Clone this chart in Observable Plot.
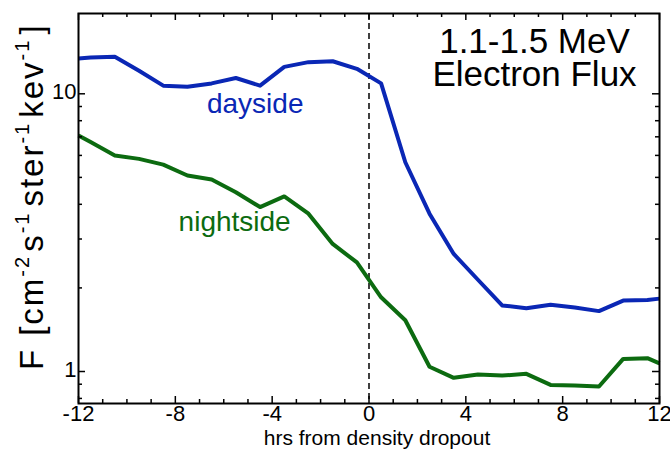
<!DOCTYPE html>
<html><head><meta charset="utf-8">
<script src="https://cdn.jsdelivr.net/npm/d3@7"></script>
<script src="https://cdn.jsdelivr.net/npm/@observablehq/plot@0.6"></script>
<style>body{margin:0;background:#fff;} #chart svg{overflow:visible;}</style>
</head><body><div id="chart"></div>
<script>
const hours = [-12, -11.5, -10.5, -9.5, -8.5, -7.5, -6.5, -5.5, -4.5, -3.5, -2.5, -1.5, -0.5, 0.5, 1.5, 2.5, 3.5, 4.5, 5.5, 6.5, 7.5, 8.5, 9.5, 10.5, 11.5, 12];
const dayside = [13.4, 13.5, 13.6, 12.1, 10.7, 10.6, 10.9, 11.4, 10.7, 12.5, 13.0, 13.1, 12.3, 10.9, 5.67, 3.70, 2.65, 2.14, 1.73, 1.69, 1.74, 1.70, 1.65, 1.80, 1.81, 1.83];
const nightside = [7.08, 6.70, 6.0, 5.83, 5.56, 5.08, 4.91, 4.42, 3.91, 4.27, 3.70, 2.88, 2.47, 1.85, 1.53, 1.04, 0.949, 0.975, 0.967, 0.981, 0.895, 0.89, 0.883, 1.11, 1.117, 1.07];
const seriesNames = ["dayside", "nightside"];
const seriesColors = ["#0a27b5", "#0c6b10"];
const labelHours = [-4.7, -5.55];
const labelFlux = [9.2, 3.46];
const xTickHours = [-12,-11,-10,-9,-8,-7,-6,-5,-4,-3,-2,-1,0,1,2,3,4,5,6,7,8,9,10,11,12];
const xMajorHours = [-12,-8,-4,0,4,8,12];
const yMinorTicks = [0.8,0.9,2,3,4,5,6,7,8,9];
const yMajorTicks = [1,10];
const titleLines = ["1.1-1.5 MeV", "Electron Flux"];
const xTitle = "hrs from density dropout";

const rows = [];
hours.forEach((h, i) => {
  rows.push({h, f: dayside[i], s: seriesNames[0]});
  rows.push({h, f: nightside[i], s: seriesNames[1]});
});
const labels = seriesNames.map((s, i) => ({s, h: labelHours[i], f: labelFlux[i]}));

const W = 670, H = 453, mL = 78, mR = 11, mT = 13, mB = 50;
const fw = W - mL - mR, fh = H - mT - mB;
const font = "'Liberation Sans', Arial, Helvetica, sans-serif";

const chart = Plot.plot({
  width: W, height: H,
  marginLeft: mL, marginRight: mR, marginTop: mT, marginBottom: mB,
  style: {fontFamily: font, background: "#fff", color: "#000", overflow: "visible"},
  x: {domain: [-12, 12]},
  y: {type: "log", domain: [0.767, 19.46]},
  color: {domain: seriesNames, range: seriesColors},
  marks: [
    Plot.ruleX([0], {stroke: "#000", strokeWidth: 1.5, strokeDasharray: "6,4"}),
    Plot.line(rows, {x: "h", y: "f", z: "s", stroke: "s", strokeWidth: 4, strokeLinejoin: "round", strokeLinecap: "butt"}),
    Plot.text(labels, {x: "h", y: "f", text: "s", fill: "s", fontSize: 28}),
    Plot.text([titleLines.join("\n")], {frameAnchor: "top-right", dx: -125, dy: 17, textAnchor: "middle", lineAnchor: "top", lineHeight: 0.92, fontSize: 35, fill: "#000"}),
    Plot.tickX(xTickHours.filter(d => !xMajorHours.includes(d)), {x: d => d, insetTop: fh - 4, stroke: "#000", strokeWidth: 1.5}),
    Plot.tickX(xMajorHours, {x: d => d, insetTop: fh - 7, stroke: "#000", strokeWidth: 1.5}),
    Plot.tickX(xTickHours.filter(d => !xMajorHours.includes(d)), {x: d => d, insetBottom: fh - 4, stroke: "#000", strokeWidth: 1.5}),
    Plot.tickX(xMajorHours, {x: d => d, insetBottom: fh - 7, stroke: "#000", strokeWidth: 1.5}),
    Plot.tickY(yMinorTicks, {y: d => d, insetRight: fw - 4, stroke: "#000", strokeWidth: 1.5}),
    Plot.tickY(yMajorTicks, {y: d => d, insetRight: fw - 7, stroke: "#000", strokeWidth: 1.5}),
    Plot.tickY(yMinorTicks, {y: d => d, insetLeft: fw - 4, stroke: "#000", strokeWidth: 1.5}),
    Plot.tickY(yMajorTicks, {y: d => d, insetLeft: fw - 7, stroke: "#000", strokeWidth: 1.5}),
    Plot.axisX(xMajorHours, {tickSize: 0, tickPadding: 2, fontSize: 22, label: null, tickFormat: d => String(d).replace("\u2212", "-")}),
    Plot.axisY(yMajorTicks, {tickSize: 0, tickPadding: 2, fontSize: 22, dy: -2, label: null, tickFormat: d => String(d)}),
    Plot.text([xTitle], {frameAnchor: "bottom", dx: 8, dy: 41, fontSize: 21, fill: "#000"}),
    Plot.frame({stroke: "#000", strokeWidth: 2})
  ]
});
document.getElementById("chart").appendChild(chart);

const svg = d3.select(chart);
const yl = svg.append("text")
  .attr("transform", "translate(43,370) rotate(-90)")
  .attr("text-anchor", "start")
  .attr("font-family", font)
  .attr("font-size", 33)
  .attr("letter-spacing", 2)
  .attr("fill", "#000");
const parts = [["F", 0, false], ["[cm", 12, false], ["-2", 0, true], ["s", 3, false], ["-1", 0, true], ["ster", 5, false], ["-1", 0, true], ["kev", 4, false], ["-1", 0, true], ["]", 4, false]];
let raised = false;
parts.forEach(([t, gap, sup]) => {
  const ts = yl.append("tspan").text(t);
  let dy = 0;
  if (sup && !raised) { dy = -14; raised = true; }
  if (!sup && raised) { dy = 14; raised = false; }
  if (dy) ts.attr("dy", dy);
  if (gap) ts.attr("dx", gap);
  if (sup) ts.attr("font-size", 20);
});
</script>
</body></html>
